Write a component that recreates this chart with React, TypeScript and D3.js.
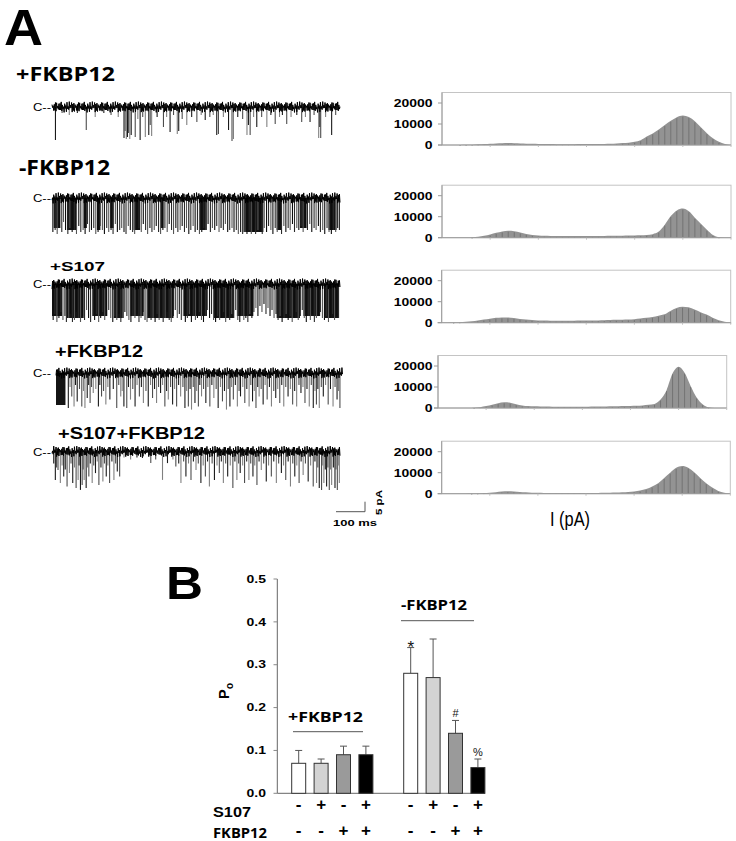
import React from "react";
import * as d3 from "d3";

// ---------- Panel A : amplitude histograms ----------
const histCurrents = d3.range(-10, 2.001, 0.25); // pA bin centres
const histYTicks = [0, 10000, 20000];
const histXTicks = [-8, -6, -4, -2, 0, 2];

const histPlusFKBP = [
  0, 0, 0, 20, 60, 150, 300, 450, 600, 750,
  850, 900, 850, 750, 650, 550, 500, 450, 420, 400,
  400, 400, 400, 420, 430, 450, 480, 520, 600, 750,
  950, 1100, 1500, 2300, 4000, 5500, 7400, 9500, 11500, 13200,
  14000, 13300, 11300, 8400, 5600, 3200, 1500, 500, 0,
];
const histMinusFKBP = [
  0, 0, 0, 0, 0, 100, 400, 900, 1500, 2300,
  3000, 3300, 3100, 2500, 1800, 1300, 1000, 900, 850, 800,
  800, 780, 780, 780, 800, 800, 820, 850, 880, 900,
  950, 1000, 1050, 1150, 1300, 1700, 2900, 6200, 10300, 13000,
  13900, 12600, 9500, 6600, 3800, 1300, 200, 0, 0,
];
const histS107 = [
  0, 0, 50, 200, 400, 700, 1100, 1500, 1900, 2300,
  2500, 2500, 2200, 1800, 1500, 1300, 1100, 1000, 950, 900,
  900, 900, 950, 1000, 1000, 1050, 1100, 1150, 1250, 1350,
  1450, 1550, 1700, 2000, 2300, 2700, 3300, 4000, 5600, 7000,
  7600, 7300, 6300, 5000, 3900, 2400, 1200, 500, 100,
];
const histReFKBP = [
  0, 0, 0, 0, 0, 0, 100, 400, 900, 1600,
  2300, 2700, 2500, 1800, 1200, 900, 800, 750, 700, 650,
  650, 600, 600, 600, 620, 650, 680, 700, 750, 800,
  850, 900, 1000, 1100, 1250, 1500, 1900, 4000, 8500, 16500,
  19700, 16800, 10500, 5000, 1800, 300, 0, 0, 0,
];
const histS107FKBP = [
  0, 0, 0, 0, 0, 50, 150, 300, 500, 750,
  1000, 1150, 1050, 850, 650, 500, 420, 380, 350, 330,
  320, 320, 320, 330, 340, 350, 380, 420, 480, 560,
  680, 850, 1100, 1500, 2200, 3400, 5000, 7500, 10000, 12300,
  13200, 12400, 10200, 7500, 5000, 2900, 1300, 400, 0,
];

// ---------- Panel A : single channel traces (events: [time ms, depth pA]) ----------
const trace1Events = [
  [12, 16.5], [35, 3], [60, 4], [88, 3], [119, 11.5], [150, 5], [180, 3], [205, 4], [230, 5],
  [250, 15.5], [254, 12], [258, 16], [262, 15], [266, 13], [270, 16], [275, 14], [289, 15], [298, 6],
  [306, 16.5], [315, 5], [324, 15], [336, 14], [341, 9], [346, 14.5], [365, 5], [387, 10], [398, 5],
  [410, 12.5], [422, 4], [435, 13.5], [440, 12], [452, 6], [468, 9], [485, 5], [503, 7.5], [518, 4],
  [532, 6.5], [548, 5], [560, 4], [572, 14], [578, 13.5], [595, 5], [613, 11.5], [625, 17], [630, 16],
  [645, 5], [662, 6], [677, 14], [682, 9], [688, 14], [700, 5], [711, 10], [728, 5], [746, 10],
  [760, 4], [775, 8.5], [790, 5], [800, 4], [815, 8.5], [830, 5], [850, 4], [867, 7.5], [880, 5],
  [896, 7.5], [910, 4], [926, 15.5], [930, 10], [933, 15.5], [950, 5], [971, 14], [985, 4],
];
const trace2Blocks = [
  [6, 29, 15], [52, 87, 16], [110, 121, 15], [156, 168, 16], [202, 214, 15], [283, 306, 16],
  [376, 387, 15], [514, 538, 16], [665, 734, 17], [780, 798, 16], [861, 884, 15], [960, 988, 16],
];
const trace2Events = [
  [3, 17], [11, 16], [18, 18], [26, 15], [34, 17], [40, 12], [47, 16], [55, 18], [62, 15], [70, 17],
  [78, 16], [85, 18], [93, 14], [100, 17], [108, 16], [115, 18], [123, 13], [130, 17], [137, 16],
  [145, 15], [152, 18], [160, 17], [167, 14], [175, 16], [182, 18], [190, 15], [197, 17], [205, 16],
  [212, 18], [220, 13], [227, 17], [235, 16], [242, 15], [250, 17], [257, 18], [265, 14], [272, 16],
  [280, 17], [287, 18], [295, 16], [302, 15], [310, 17], [317, 13], [325, 16], [332, 18], [340, 15],
  [347, 17], [355, 16], [362, 14], [370, 17], [377, 18], [385, 16], [392, 15], [400, 17], [407, 13],
  [415, 16], [422, 18], [430, 15], [437, 17], [445, 16], [452, 14], [460, 17], [467, 15], [475, 18],
  [482, 16], [490, 14], [497, 17], [505, 16], [512, 18], [520, 17], [527, 15], [535, 16], [542, 13],
  [550, 17], [557, 15], [565, 16], [572, 14], [580, 17], [587, 15], [595, 16], [602, 13], [610, 17],
  [617, 16], [625, 15], [632, 17], [640, 16], [647, 18], [655, 17], [662, 18], [670, 17], [677, 18],
  [685, 16], [692, 18], [700, 17], [707, 18], [715, 16], [722, 17], [730, 18], [737, 15], [745, 17],
  [752, 14], [760, 16], [767, 18], [775, 15], [782, 17], [790, 16], [797, 18], [805, 14], [812, 17],
  [820, 15], [827, 16], [835, 13], [842, 17], [850, 15], [857, 16], [865, 14], [872, 17], [880, 15],
  [887, 16], [895, 13], [902, 17], [910, 15], [917, 16], [925, 14], [932, 17], [940, 16], [947, 18],
  [955, 15], [962, 17], [970, 18], [977, 16], [985, 17], [992, 15], [998, 16],
];
const trace3Blocks = [
  [0, 35, 16], [52, 110, 17], [139, 191, 16], [214, 249, 17], [272, 318, 16], [330, 422, 17],
  [457, 538, 16], [561, 630, 17], [642, 699, 16], [780, 861, 17], [873, 931, 16], [948, 994, 17],
];
const trace3Events = [
  [4, 18], [10, 15], [17, 19], [24, 17], [31, 14], [38, 18], [45, 16], [50, 19], [58, 17], [64, 15],
  [71, 19], [78, 18], [85, 14], [92, 17], [99, 19], [106, 16], [113, 18], [120, 13], [127, 17],
  [134, 19], [141, 16], [148, 18], [155, 15], [162, 19], [169, 17], [176, 14], [183, 18], [190, 16],
  [197, 13], [204, 17], [211, 19], [218, 16], [225, 18], [232, 15], [239, 19], [246, 17], [253, 14],
  [260, 16], [267, 18], [274, 19], [281, 16], [288, 17], [295, 15], [302, 19], [309, 17], [316, 14],
  [323, 18], [330, 19], [337, 16], [344, 18], [351, 17], [358, 19], [365, 15], [372, 18], [379, 16],
  [386, 19], [393, 17], [400, 14], [407, 18], [414, 19], [421, 16], [428, 13], [435, 17], [442, 15],
  [449, 18], [456, 16], [463, 19], [470, 17], [477, 15], [484, 19], [491, 16], [498, 18], [505, 17],
  [512, 14], [519, 18], [526, 19], [533, 16], [540, 13], [547, 17], [554, 15], [561, 18], [568, 19],
  [575, 16], [582, 18], [589, 17], [596, 14], [603, 19], [610, 16], [617, 18], [624, 15], [631, 17],
  [638, 13], [645, 18], [652, 19], [659, 16], [666, 18], [673, 17], [680, 19], [687, 15], [694, 17],
  [701, 14], [708, 12], [715, 16], [722, 11], [729, 14], [736, 10], [743, 15], [750, 12], [757, 16],
  [764, 13], [771, 17], [778, 15], [785, 18], [792, 16], [799, 19], [806, 17], [813, 15], [820, 18],
  [827, 16], [834, 19], [841, 17], [848, 14], [855, 18], [862, 16], [869, 13], [876, 17], [883, 19],
  [890, 16], [897, 18], [904, 15], [911, 19], [918, 17], [925, 16], [932, 14], [939, 17], [946, 18],
  [953, 16], [960, 19], [967, 17], [974, 15], [981, 18], [988, 16], [995, 17],
];
const trace4Blocks = [[0, 33, 16]];
const trace4Events = [
  [43, 17.5], [55, 11.7], [63, 16.7], [74, 14.2], [90, 16.7], [101, 17.5], [109, 12.5], [119, 15],
  [130, 10], [148, 16.7], [159, 11.7], [174, 15.8], [188, 13.3], [212, 17.5], [226, 11.7], [237, 16.7],
  [247, 17.5], [260, 13.3], [276, 16.7], [291, 11.7], [305, 15], [322, 16.7], [337, 12.5], [351, 15],
  [365, 10], [380, 16.7], [392, 13.3], [407, 15.8], [421, 16.7], [435, 11.7], [450, 17.5], [462, 16.7],
  [473, 18.3], [485, 15], [497, 16.7], [508, 11.7], [523, 15], [537, 16.7], [551, 12.5], [566, 17.5],
  [581, 14.2], [595, 18.3], [607, 16.7], [619, 13.3], [633, 16.7], [644, 11.7], [659, 15], [674, 16.7],
  [686, 14.2], [698, 17.5], [709, 11.7], [723, 15.8], [737, 13.3], [752, 16.7], [767, 12.5], [781, 15],
  [795, 16.7], [810, 11.7], [826, 15.8], [840, 16.7], [855, 10], [869, 15], [884, 16.7], [898, 17.5],
  [909, 15.8], [919, 17.5], [933, 11.7], [950, 15.8], [967, 16.7], [981, 13.3], [991, 17.5],
  [49, 7], [68, 6], [82, 8], [96, 9], [114, 6], [124, 7], [139, 8], [153, 6], [166, 9], [181, 7],
  [200, 8], [219, 6], [231, 9], [253, 7], [268, 8], [283, 6], [298, 7], [314, 9], [330, 6], [344, 8],
  [358, 7], [372, 6], [386, 9], [400, 7], [414, 8], [428, 6], [443, 7], [456, 9], [468, 8], [479, 7],
  [491, 9], [502, 6], [515, 8], [530, 7], [544, 6], [559, 8], [574, 7], [588, 9], [601, 8], [613, 7],
  [626, 6], [639, 9], [652, 7], [666, 8], [680, 6], [692, 9], [704, 7], [716, 8], [730, 6], [745, 7],
  [760, 9], [774, 8], [788, 6], [802, 7], [818, 8], [833, 9], [848, 6], [862, 7], [876, 8], [891, 6],
  [904, 9], [914, 8], [926, 7], [941, 6], [958, 8], [974, 7], [986, 9],
];
const trace5Events = [
  [11.6, 14.2], [20.9, 9.2], [29, 15.8], [40.7, 12.5], [52.3, 17.5], [60.5, 10.8], [72, 15.8],
  [83.7, 18.3], [90.7, 14.2], [98.8, 19.2], [104.7, 16.7], [111.6, 14.2], [118.6, 18.3], [127.9, 12.5],
  [139.5, 15.8], [151, 10.8], [162.8, 16.7], [176.7, 15], [188.4, 12.5], [200, 15.8], [215, 14.2],
  [226.7, 10], [234.9, 12.5], [273, 4], [314, 3.3], [343, 5.8], [383.7, 14.2], [401, 5.8], [430, 7.5],
  [447.7, 15.8], [465, 12.5], [482.6, 14.2], [500, 9.2], [517, 15.8], [532.6, 12.5], [546.5, 17.5],
  [564, 14.2], [581, 10.8], [595, 15.8], [610, 12.5], [628, 18.3], [642, 14.2], [653.5, 10.8],
  [668.6, 15.8], [683.7, 14.2], [697.7, 12.5], [711.6, 16.7], [726.7, 9.2], [744, 15], [761.6, 12.5],
  [779, 15.8], [796.5, 10.8], [811.6, 14.2], [828, 17.5], [843, 12.5], [858, 15.8], [872, 11.7],
  [889.5, 15], [907, 17.5], [918.6, 15.8], [928, 18.3], [936, 19.2], [944, 15.8], [953.5, 17.5],
  [962.8, 19.2], [971, 16.7], [982.6, 18.3], [990.7, 19.2], [997.7, 15.8],
  [6, 6], [16, 8], [35, 7], [46, 9], [66, 6], [78, 8], [94, 7], [108, 9], [123, 8], [133, 6],
  [145, 7], [157, 5], [170, 8], [182, 6], [194, 7], [208, 5], [221, 6], [250, 3], [295, 3], [360, 4],
  [420, 4], [440, 6], [457, 5], [474, 6], [491, 5], [508, 6], [525, 7], [540, 5], [556, 6], [573, 7],
  [588, 5], [603, 6], [619, 7], [635, 5], [648, 6], [662, 7], [676, 5], [690, 6], [704, 7], [719, 5],
  [735, 6], [752, 7], [770, 5], [787, 6], [804, 7], [820, 5], [836, 6], [850, 7], [865, 5], [880, 6],
  [898, 7], [913, 5], [923, 8], [940, 7], [949, 9], [958, 8], [967, 9], [977, 8], [986, 9], [994, 7],
];
const traceLabels = ["+FKBP12", "-FKBP12", "+S107", "+FKBP12", "+S107+FKBP12"];

// baseline noise texture (pA), hand-written
const NOISE = [
  0.8, -1.2, 1.5, -0.4, 0.2, -1.6, 1.1, -0.7, 1.7, -1.0, 0.3, -1.4, 0.9, -0.2, 1.3, -1.7, 0.6, -0.9, 1.6, -0.5,
  0.1, -1.3, 1.2, -0.8, 1.4, -1.1, 0.4, -1.5, 1.0, -0.3, 1.8, -0.6, 0.5, -1.8, 0.7, -1.0, 1.1, -0.4, 1.5, -1.2,
];

// ---------- Panel B : open probability ----------
const conditions = [
  "+FKBP12 ctrl", "+FKBP12 S107", "+FKBP12 +FKBP12", "+FKBP12 S107+FKBP12",
  "-FKBP12 ctrl", "-FKBP12 S107", "-FKBP12 +FKBP12", "-FKBP12 S107+FKBP12",
];
const poValues = [0.07, 0.07, 0.09, 0.09, 0.28, 0.27, 0.14, 0.06];
const poErrors = [0.03, 0.01, 0.02, 0.02, 0.06, 0.09, 0.03, 0.02];
const poMarks = ["", "", "", "", "*", "", "#", "%"];
const s107Signs = ["-", "+", "-", "+", "-", "+", "-", "+"];
const fkbpSigns = ["-", "-", "+", "+", "-", "-", "+", "+"];
const poTicks = [0, 0.1, 0.2, 0.3, 0.4, 0.5];

const SANS = "'Liberation Sans', Arial, sans-serif";
const OPEN = "'Open Sans', 'Liberation Sans', sans-serif";

function Trace({ events, blocks = [], x0, x1, base, off, dark }: any) {
  const x = d3.scaleLinear().domain([0, 1000]).range([x0, x1]);
  const y = d3.scaleLinear().domain([0, 20]).range([base, base + 40]);
  const pts = d3.range(0, 1001, 2).map((t, i) => [x(t), y(-NOISE[(i * 13 + off) % NOISE.length] * 1.5)] as [number, number]);
  const path = d3.line()(pts) || "";
  const palette = dark ? ["#0d0d0d", "#2a2a2a", "#555"] : ["#1a1a1a", "#4d4d4d", "#808080"];
  return (
    <g>
      {blocks.map(([a, b, d]: number[], i: number) => (
        <rect key={"b" + i} x={x(a)} y={base} width={x(b) - x(a)} height={y(d) - base} fill="#141414" />
      ))}
      {events.map(([t, d]: number[], i: number) => (
        <line key={"e" + i} x1={x(t)} x2={x(t)} y1={base} y2={y(d)} stroke={palette[i % 3]} strokeWidth={1.1} />
      ))}
      <path d={path} fill="none" stroke="#000" strokeWidth={1} />
      <text x={33} y={base + 4} fontSize={11} fontFamily={SANS} textLength={18} lengthAdjust="spacingAndGlyphs">C--</text>
    </g>
  );
}

function Hist({ vals, left, right, zero }: any) {
  const x = d3.scaleLinear().domain([-10, 2]).range([left, right]);
  const y = d3.scaleLinear().domain([0, 25000]).range([zero, zero - 52.5]);
  const area = d3.area<number>()
    .x((_, i) => x(histCurrents[i]))
    .y0(zero)
    .y1((d) => y(d))
    .curve(d3.curveMonotoneX);
  return (
    <g>
      <rect x={left} y={y(25000)} width={right - left} height={zero - y(25000)} fill="none" stroke="#c4c4c4" strokeWidth={1} />
      <path d={area(vals) || ""} fill="#939393" />
      {vals.map((v: number, i: number) =>
        v > 0 ? (
          <line key={i} x1={x(histCurrents[i])} x2={x(histCurrents[i])} y1={zero} y2={y(v) + 1} stroke="#6c6c6c" strokeWidth={0.8} />
        ) : null
      )}
      <line x1={left - 4} x2={right} y1={zero} y2={zero} stroke="#9a9a9a" strokeWidth={1} />
      <line x1={left} x2={left} y1={zero} y2={y(25000)} stroke="#9a9a9a" strokeWidth={1} />
      {histYTicks.map((t) => (
        <g key={t}>
          <line x1={left - 4} x2={left} y1={y(t)} y2={y(t)} stroke="#9a9a9a" />
          <g transform={`translate(432.5,${y(t) + 3.8}) scale(1.33,1)`}>
            <text textAnchor="end" fontSize={10.5} fontWeight="bold" fontFamily={SANS}>{t}</text>
          </g>
        </g>
      ))}
      {histXTicks.map((t) => (
        <line key={t} x1={x(t)} x2={x(t)} y1={zero} y2={zero + 2} stroke="#c0c0c0" />
      ))}
    </g>
  );
}

export default function App() {
  const traces = [
    { events: trace1Events, blocks: [], x0: 52, x1: 340, base: 107, off: 0, dark: false },
    { events: trace2Events, blocks: trace2Blocks, x0: 52, x1: 340, base: 198, off: 7, dark: true },
    { events: trace3Events, blocks: trace3Blocks, x0: 52, x1: 340, base: 284, off: 15, dark: true },
    { events: trace4Events, blocks: trace4Blocks, x0: 56, x1: 342.5, base: 373, off: 23, dark: false },
    { events: trace5Events, blocks: [], x0: 52, x1: 340, base: 451.5, off: 31, dark: false },
  ];
  const hists = [
    { vals: histPlusFKBP, left: 442, right: 731, zero: 145 },
    { vals: histMinusFKBP, left: 442, right: 731, zero: 237.7 },
    { vals: histS107, left: 441.7, right: 730.7, zero: 322.7 },
    { vals: histReFKBP, left: 438, right: 726.7, zero: 408 },
    { vals: histS107FKBP, left: 441.7, right: 730.3, zero: 493.7 },
  ];

  const slots = [...conditions.slice(0, 4), "gap", ...conditions.slice(4)];
  const xb = d3.scaleBand().domain(slots).range([287.5, 489.1]).paddingInner(0.375).paddingOuter(0.1875);
  const yb = d3.scaleLinear().domain([0, 0.5]).range([793.3, 579]);
  const bw = xb.bandwidth();
  const fills = ["#ffffff", "#d3d3d3", "#9a9a9a", "#000000"];

  return (
    <svg width={736} height={841} style={{ position: "absolute", left: 0, top: 0, background: "#fff" }}>
      <rect width={736} height={841} fill="#fff" />
      <text x={4} y={45} fontSize={50} fontWeight="bold" fontFamily={SANS} textLength={39} lengthAdjust="spacingAndGlyphs">A</text>
      <text x={166} y={599} fontSize={47} fontWeight="bold" fontFamily={SANS} textLength={37} lengthAdjust="spacingAndGlyphs">B</text>

      <text x={16} y={80.7} fontSize={19.5} fontWeight="bold" fontFamily={OPEN} textLength={99} lengthAdjust="spacingAndGlyphs">{traceLabels[0]}</text>
      <text x={19} y={175} fontSize={21} fontWeight="bold" fontFamily={OPEN} textLength={91} lengthAdjust="spacingAndGlyphs">{traceLabels[1]}</text>
      <text x={50} y={270.7} fontSize={13.5} fontWeight="bold" fontFamily={SANS} textLength={55} lengthAdjust="spacingAndGlyphs">{traceLabels[2]}</text>
      <text x={55} y={356.7} fontSize={17} fontWeight="bold" fontFamily={SANS} textLength={88} lengthAdjust="spacingAndGlyphs">{traceLabels[3]}</text>
      <text x={58} y={438.7} fontSize={17} fontWeight="bold" fontFamily={SANS} textLength={147} lengthAdjust="spacingAndGlyphs">{traceLabels[4]}</text>

      {traces.map((t, i) => (
        <Trace key={i} {...t} />
      ))}

      <line x1={336} x2={365} y1={511.7} y2={511.7} stroke="#555" strokeWidth={1} />
      <line x1={365} x2={365} y1={501.7} y2={511.7} stroke="#555" strokeWidth={1} />
      <text x={333} y={525.5} fontSize={9.5} fontWeight="bold" fontFamily={SANS} textLength={44} lengthAdjust="spacingAndGlyphs">100 ms</text>
      <g transform="translate(381.5,515) rotate(-90)">
        <text x={0} y={0} fontSize={9.5} fontWeight="bold" fontFamily={SANS} textLength={25} lengthAdjust="spacingAndGlyphs">5 pA</text>
      </g>

      {hists.map((h, i) => (
        <Hist key={i} {...h} />
      ))}
      <text x={550} y={526} fontSize={20} fontFamily={SANS} textLength={40} lengthAdjust="spacingAndGlyphs">I (pA)</text>

      {/* Panel B */}
      <line x1={277.3} x2={277.3} y1={yb(0)} y2={yb(0.5)} stroke="#666" strokeWidth={1} />
      <line x1={277.3} x2={485} y1={yb(0)} y2={yb(0)} stroke="#666" strokeWidth={1} />
      {poTicks.map((t) => (
        <g key={t}>
          <line x1={273.5} x2={277.3} y1={yb(t)} y2={yb(t)} stroke="#888" />
          <g transform={`translate(266,${yb(t) + 3.7}) scale(1.33,1)`}>
            <text textAnchor="end" fontSize={10.5} fontWeight="bold" fontFamily={SANS}>{t.toFixed(1)}</text>
          </g>
        </g>
      ))}
      <g transform="translate(228.5,699) rotate(-90)">
        <text fontSize={14.5} fontWeight="bold" fontFamily={SANS}>
          P<tspan fontSize={10.5} dy={4}>o</tspan>
        </text>
      </g>

      {conditions.map((c, i) => {
        const x0 = xb(c) as number;
        const cx = x0 + bw / 2;
        const top = yb(poValues[i] + poErrors[i]);
        const mark = poMarks[i];
        return (
          <g key={c}>
            <line x1={cx} x2={cx} y1={yb(poValues[i])} y2={top} stroke="#555" strokeWidth={1} />
            <line x1={cx - 3.5} x2={cx + 3.5} y1={top} y2={top} stroke="#555" strokeWidth={1} />
            <rect x={x0} y={yb(poValues[i])} width={bw} height={yb(0) - yb(poValues[i])} fill={fills[i % 4]} stroke="#333" strokeWidth={1} />
            {mark && (
              <text x={cx} y={mark === "*" ? top + 5 : top - 3.5} textAnchor="middle" fontSize={mark === "*" ? 17 : 11} fontFamily={SANS} fill="#111">
                {mark}
              </text>
            )}
            <text x={cx} y={810} textAnchor="middle" fontSize={17} fontWeight="bold" fontFamily={SANS}>{s107Signs[i]}</text>
            <text x={cx} y={835.5} textAnchor="middle" fontSize={17} fontWeight="bold" fontFamily={SANS}>{fkbpSigns[i]}</text>
          </g>
        );
      })}

      <text x={288} y={721.7} fontSize={15} fontWeight="bold" fontFamily={OPEN} textLength={75} lengthAdjust="spacingAndGlyphs">+FKBP12</text>
      <line x1={293} x2={363} y1={731.7} y2={731.7} stroke="#555" strokeWidth={1} />
      <text x={401} y={610} fontSize={15} fontWeight="bold" fontFamily={OPEN} textLength={66} lengthAdjust="spacingAndGlyphs">-FKBP12</text>
      <line x1={401} x2={474} y1={620.7} y2={620.7} stroke="#555" strokeWidth={1} />

      <text x={213} y={816.5} fontSize={14.5} fontWeight="bold" fontFamily={SANS} textLength={38} lengthAdjust="spacingAndGlyphs">S107</text>
      <text x={213} y={838} fontSize={15} fontWeight="bold" fontFamily={OPEN} textLength={54} lengthAdjust="spacingAndGlyphs">FKBP12</text>
    </svg>
  );
}
